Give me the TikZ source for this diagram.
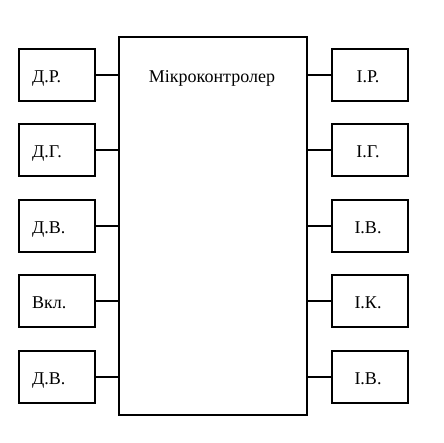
\documentclass[tikz,border=0pt]{standalone}
\usepackage{fontspec}
\setmainfont{Liberation Serif}
\begin{document}
\begin{tikzpicture}[x=1pt,y=-1pt,
  lw/.style={line width=2pt},
  txt/.style={inner sep=0pt,font=\fontsize{18}{21}\selectfont},
  sbox/.style={draw,lw,minimum width=76pt,minimum height=52pt,inner sep=0pt,outer sep=0pt},
  link/.style={lw}]
\useasboundingbox[fill=white] (0,0) rectangle (444,442);
\node[sbox,minimum width=188pt,minimum height=378pt] (mc) at (213,226) {};
\node[txt,anchor=base] (title) at (212,82.7) {Мікроконтролер};
\foreach \i/\y/\lt/\rt in {1/75/Д.Р./І.Р., 2/150/Д.Г./І.Г., 3/226/Д.В./І.В., 4/301/Вкл./І.К., 5/377/Д.В./І.В.}{
  \node[sbox] (l\i) at (57,\y) {};
  \node[sbox] (r\i) at (370,\y) {};
  \node[txt,anchor=base west] (lt\i) at ([xshift=13pt,yshift=-7.7pt]l\i.west) {\lt};
  \node[txt,anchor=base] (rt\i) at ([xshift=-2pt,yshift=-7.7pt]r\i.center) {\rt};
  \draw[link] (l\i.east) -- (l\i.east -| mc.west);
  \draw[link] (r\i.west) -- (r\i.west -| mc.east);
}
\end{tikzpicture}
\end{document}
